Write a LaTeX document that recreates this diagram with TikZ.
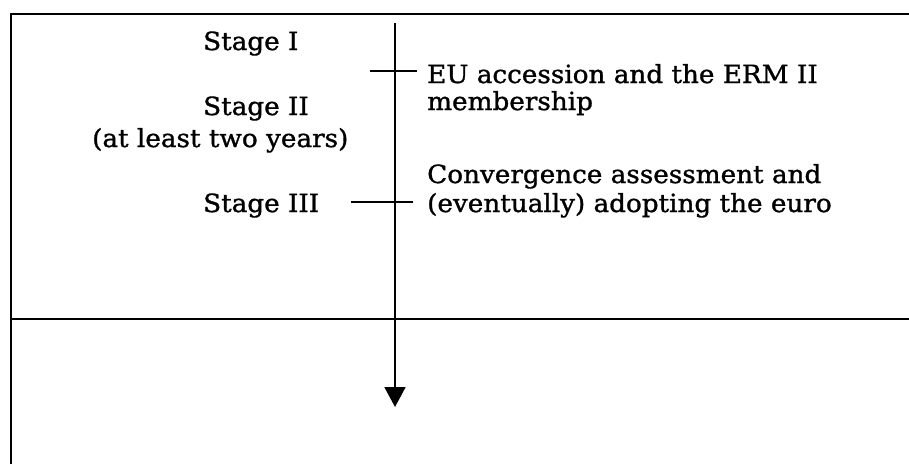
\documentclass[tikz,border=0pt]{standalone}
\usepackage{fontspec}
\setmainfont{DejaVu Serif}[FakeStretch=1.05,FakeBold=1.2]
\usetikzlibrary{arrows.meta}
\tikzset{
  frameline/.style={line width=2.2pt, black},
  tickline/.style={line width=1.6pt, black},
  axisline/.style={line width=1.8pt, black, -{Triangle[length=20pt,width=21pt]}},
  lbl/.style={anchor=base west, inner sep=0pt, font=\fontsize{25}{28}\selectfont}
}
\begin{document}
\begin{tikzpicture}[x=1pt,y=-1pt]
\useasboundingbox (0,0) rectangle (909,464);
% frame
\coordinate (tl) at (11,14);
\coordinate (tr) at (909,14);
\coordinate (bl) at (11,464);
\coordinate (ml) at (11,319);
\coordinate (mr) at (909,319);
\draw[frameline] (bl) -- (tl) -- (tr);
\draw[frameline] (ml) -- (mr);
% time axis
\coordinate (atop) at (395,23);
\coordinate (abot) at (395,407);
\draw[axisline] (atop) -- (abot);
% ticks
\coordinate (t1a) at (370,71);
\coordinate (t1b) at (417,71);
\coordinate (t2a) at (351,202);
\coordinate (t2b) at (413,202);
\draw[tickline] (t1a) -- (t1b);
\draw[tickline] (t2a) -- (t2b);
% left labels
\node[lbl] (s1) at (203,50) {Stage I};
\node[lbl] (s2) at (203,115) {Stage II};
\node[lbl] (s2b) at (92,147) {(at least two years)};
\node[lbl] (s3) at (203,212) {Stage III};
% right labels
\node[lbl] (e1) at (427,83) {EU accession and the ERM II};
\node[lbl] (e2) at (427,110) {membership};
\node[lbl] (c1) at (427,183) {Convergence assessment and};
\node[lbl] (c2) at (427,212) {(eventually) adopting the euro};
\end{tikzpicture}
\end{document}
